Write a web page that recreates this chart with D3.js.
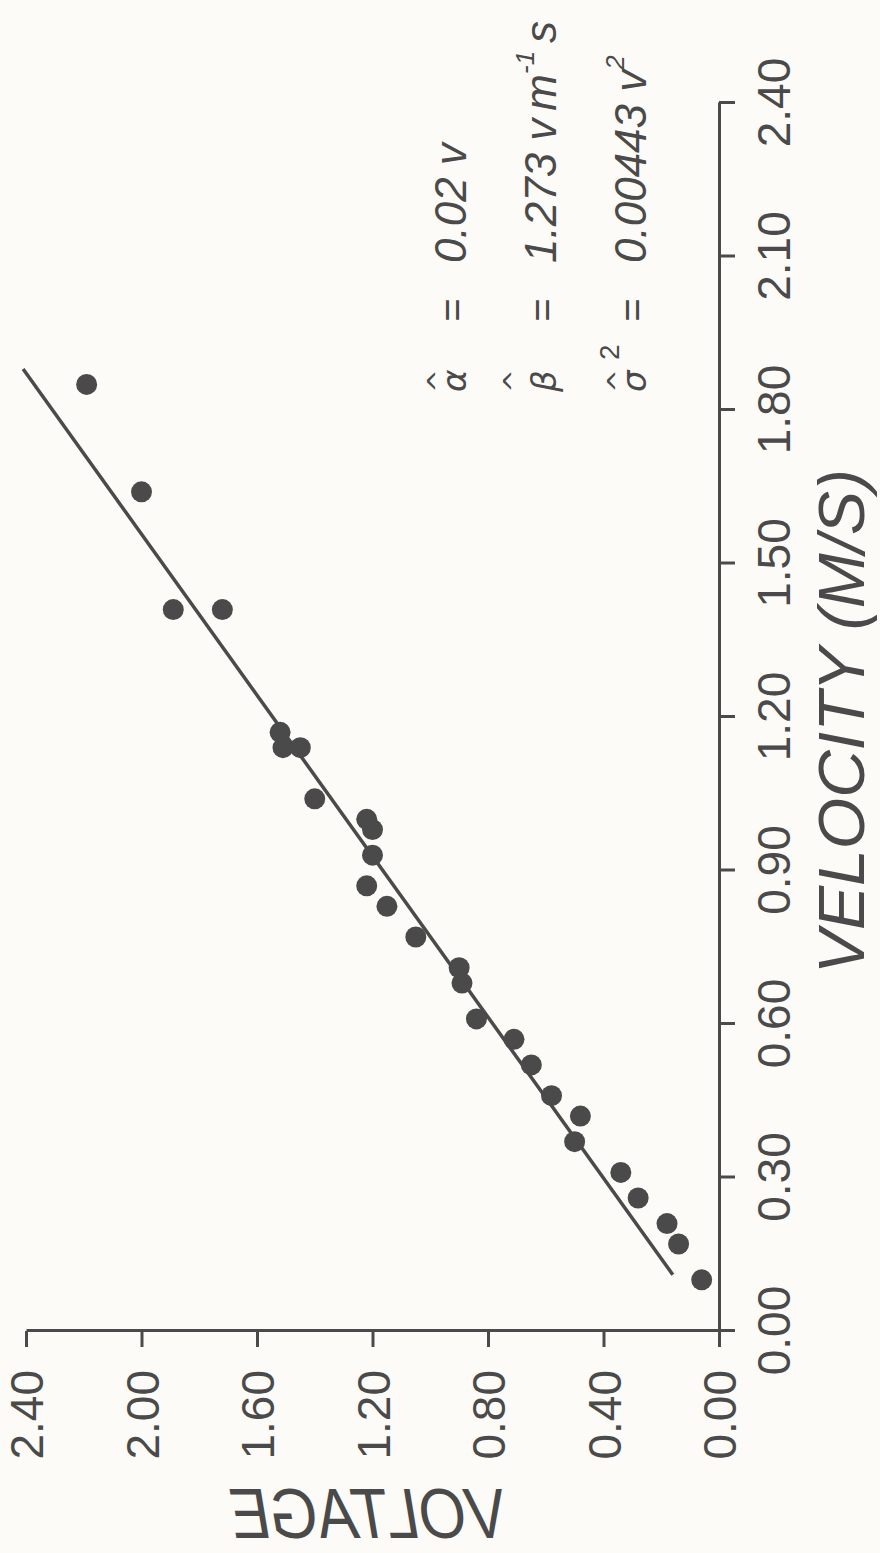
<!DOCTYPE html>
<html>
<head>
<meta charset="utf-8">
<script src="https://cdn.jsdelivr.net/npm/d3@7"></script>
<style>
  body { margin: 0; background: #fcfbf7; }
  svg { display: block; }
</style>
</head>
<body>
<div id="wrapper"></div>
<script>
// data (velocity in m/s, output in volts)
const velocity = [1.85, 1.64, 1.41, 1.41, 1.17, 1.14, 1.14, 1.04, 1.00, 0.98, 0.93, 0.87, 0.83, 0.77,
                  0.71, 0.68, 0.61, 0.57, 0.52, 0.46, 0.42, 0.37, 0.31, 0.26, 0.21, 0.17, 0.10];
const voltage  = [2.19, 2.00, 1.89, 1.72, 1.52, 1.51, 1.45, 1.40, 1.22, 1.20, 1.20, 1.22, 1.15, 1.05,
                  0.90, 0.89, 0.84, 0.71, 0.65, 0.58, 0.48, 0.50, 0.34, 0.28, 0.18, 0.14, 0.06];
// ends of the fitted line
const fitVelocity = [0.11, 1.88];
const fitVoltage  = [0.16, 2.41];

const velocityTicks = [0, 0.3, 0.6, 0.9, 1.2, 1.5, 1.8, 2.1, 2.4];
const voltageTicks  = [0, 0.4, 0.8, 1.2, 1.6, 2.0, 2.4];

const estSymbols = ["α", "β", "σ"];
const estValues  = ["0.02", "1.273", "0.00443"];
const estUnits   = [["v"], ["v", "m", "-1", "s"], ["v", "2"]];

const ink = "#4a4a4a";

function drawChart() {
    const pageW = 880, pageH = 1553;

    const svg = d3.select("#wrapper")
        .append("svg")
        .attr("width", pageW)
        .attr("height", pageH);

    svg.append("rect")
        .attr("width", pageW)
        .attr("height", pageH)
        .attr("fill", "#fcfbf7");

    // the printed page is turned a quarter turn, so the whole chart is drawn sideways
    const bounds = svg.append("g")
        .attr("transform", `translate(0,${pageH}) rotate(-90)`);

    const xScale = d3.scaleLinear()
        .domain([0, 2.4])
        .range([222, 1450]);

    const yScale = d3.scaleLinear()
        .domain([0, 2.4])
        .range([719, 26]);

    // velocity axis
    const xAxis = bounds.append("g")
        .attr("transform", `translate(0,${yScale(0)})`)
        .call(d3.axisBottom(xScale)
            .tickValues(velocityTicks)
            .tickFormat(d3.format(".2f"))
            .tickSize(16)
            .tickSizeOuter(0));

    xAxis.selectAll("text")
        .attr("y", 71)
        .attr("dy", 0);

    // voltage axis
    const yAxis = bounds.append("g")
        .attr("transform", `translate(${xScale(0)},0)`)
        .call(d3.axisLeft(yScale)
            .tickValues(voltageTicks)
            .tickFormat(d3.format(".2f"))
            .tickSize(16)
            .tickSizeOuter(0));

    yAxis.selectAll("text")
        .attr("x", -39)
        .attr("dy", "0.36em");

    [xAxis, yAxis].forEach(ax => {
        ax.select(".domain").attr("stroke", ink).attr("stroke-width", 3);
        ax.selectAll(".tick line").attr("stroke", ink).attr("stroke-width", 3);
        ax.selectAll("text")
            .attr("fill", ink)
            .style("font-family", "'Liberation Sans', Arial, sans-serif")
            .style("font-size", "46px");
    });

    // fitted line
    const fit = d3.zip(fitVelocity, fitVoltage);
    const lineGenerator = d3.line()
        .x(d => xScale(d[0]))
        .y(d => yScale(d[1]));

    bounds.append("path")
        .attr("d", lineGenerator(fit))
        .attr("fill", "none")
        .attr("stroke", ink)
        .attr("stroke-width", 3.5);

    // points
    bounds.append("g")
        .selectAll("circle")
        .data(d3.zip(velocity, voltage))
        .join("circle")
        .attr("cx", d => xScale(d[0]))
        .attr("cy", d => yScale(d[1]))
        .attr("r", 10.5)
        .attr("fill", ink);

    // axis title along the velocity axis
    bounds.append("text")
        .attr("x", 579)
        .attr("y", 864)
        .attr("textLength", 505)
        .attr("lengthAdjust", "spacingAndGlyphs")
        .attr("fill", ink)
        .style("font-family", "'Liberation Sans', Arial, sans-serif")
        .style("font-style", "italic")
        .style("font-size", "64px")
        .text("VELOCITY (M/S)");

    // parameter estimates
    const hatLift = [34, 48, 34];
    estSymbols.forEach((sym, i) => {
        const base = 466 + i * 90;
        const sx = 1161;

        bounds.append("text")
            .attr("x", sx)
            .attr("y", base)
            .attr("fill", ink)
            .style("font-family", "'DejaVu Sans', sans-serif")
            .style("font-style", "italic")
            .style("font-size", "34px")
            .text(sym);

        bounds.append("text")
            .attr("x", sx + 11)
            .attr("y", base - hatLift[i] + 16)
            .attr("text-anchor", "middle")
            .attr("fill", ink)
            .style("font-family", "'DejaVu Sans', sans-serif")
            .style("font-size", "28px")
            .text("^");

        if (sym === "σ") {
            bounds.append("text")
                .attr("x", sx + 32)
                .attr("y", base - 27)
                .attr("fill", ink)
                .style("font-family", "'Liberation Sans', sans-serif")
                .style("font-size", "28px")
                .text("2");
        }

        bounds.append("text")
            .attr("x", 1243)
            .attr("y", base)
            .attr("text-anchor", "middle")
            .attr("fill", ink)
            .style("font-family", "'Liberation Sans', sans-serif")
            .style("font-size", "40px")
            .text("=");

        const val = bounds.append("text")
            .attr("x", 1290)
            .attr("y", base)
            .attr("fill", ink)
            .style("font-family", "'Liberation Sans', sans-serif")
            .style("font-style", "italic")
            .style("font-size", "44px");

        val.append("tspan").text(estValues[i] + " ");
        const units = estUnits[i];
        units.forEach((u, j) => {
            const sup = /\d/.test(u);
            const t = val.append("tspan").text(u);
            if (sup) {
                t.style("font-size", "26px").attr("dy", "-0.85em");
            } else if (j > 0 && /\d/.test(units[j - 1])) {
                t.attr("dy", "0.5em").attr("dx", 8);
            } else if (j > 0) {
                t.attr("dx", 8);
            }
        });
    });

    // axis title under the voltage axis, printed mirror-wise on the sheet
    svg.append("text")
        .attr("transform", "translate(507,1538) scale(-1,1)")
        .attr("x", 0)
        .attr("y", 0)
        .attr("textLength", 277)
        .attr("lengthAdjust", "spacingAndGlyphs")
        .attr("fill", ink)
        .style("font-family", "'Liberation Sans', Arial, sans-serif")
        .style("font-style", "italic")
        .style("font-size", "70px")
        .text("VOLTAGE");
}

drawChart();
</script>
</body>
</html>
